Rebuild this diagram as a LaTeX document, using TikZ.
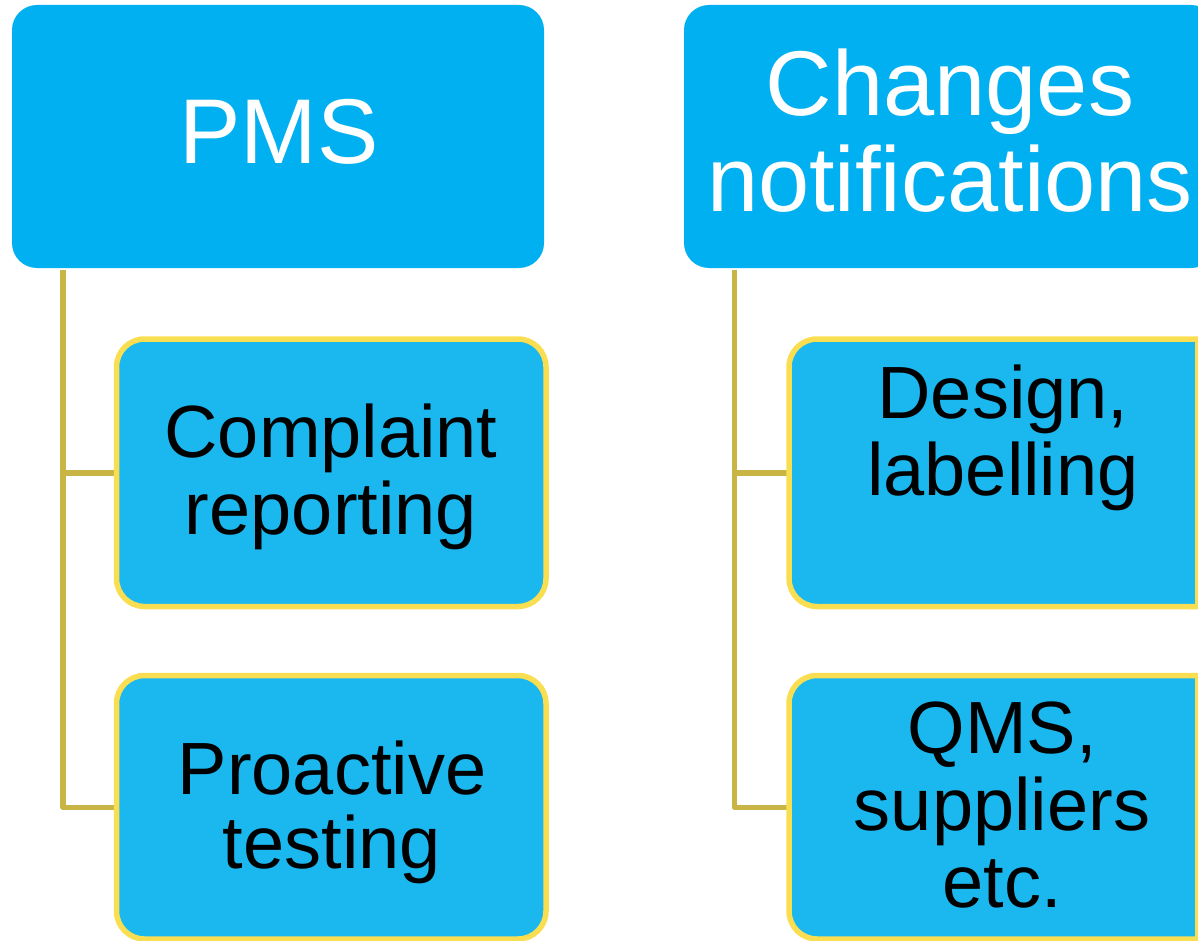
\documentclass[tikz,border=0pt]{standalone}
\usepackage{fontspec}
\setmainfont{Liberation Sans}
\usetikzlibrary{backgrounds}
\definecolor{topblue}{HTML}{00B0F0}
\definecolor{childblue}{HTML}{1BB7EF}
\definecolor{childedge}{HTML}{FADE52}
\definecolor{connector}{HTML}{C9B545}
\tikzset{
  topbox/.style={rectangle, rounded corners=25pt, fill=topblue, draw=none,
    inner sep=0pt, outer sep=0pt, minimum width=532pt, minimum height=263pt},
  childbox/.style={rectangle, rounded corners=28pt, fill=childblue, draw=childedge,
    line width=5.5pt, inner sep=0pt, outer sep=0pt},
  childframe/.style={rectangle, draw=none, fill=none, inner sep=0pt, outer sep=0pt},
  childpath/.style={fill=childblue, draw=childedge, line width=5.5pt, line join=miter},
  toptext/.style={text=white, align=center, inner sep=0pt, font=\fontsize{92}{96}\selectfont},
  childtext/.style={text=black, align=center, inner sep=0pt, font=\fontsize{74}{77}\selectfont},
  conn/.style={draw=connector, line width=5.5pt, line join=round}
}
\begin{document}
\begin{tikzpicture}[x=1pt, y=-1pt]
\useasboundingbox (0,0) rectangle (1198,941);
\clip (0,0) rectangle (1198,941);
% top-level boxes
\node[topbox] (pms) at (278,136.5) {};
\node[topbox] (chg) at (950,136.5) {};
% child boxes (left column)
\node[childbox, minimum width=429.5pt, minimum height=267.5pt] (c1) at (331.25,472.75) {};
\node[childbox, minimum width=429.5pt, minimum height=263.5pt] (c2) at (331.25,807.25) {};
% child boxes (right column, cut at the right edge)
\node[childframe, minimum width=408.75pt, minimum height=267.5pt] (d1) at (993.375,472.75) {};
\node[childframe, minimum width=408.75pt, minimum height=263.5pt] (d2) at (993.375,807.25) {};
\foreach \b in {d1,d2}{
  \draw[childpath] (\b.north east) -- ([xshift=28pt]\b.north west)
    arc[start angle=90, end angle=180, radius=28pt]
    -- ([yshift=28pt]\b.south west)
    arc[start angle=180, end angle=270, radius=28pt]
    -- (\b.south east) -- cycle;
}
% texts
\node[toptext] (pmst) at (279,131.5) {PMS};
\node[toptext] (chgt) at (950,130.5) {Changes\\notifications};
\node[childtext] (c1t) at (331,477) {Complaint\\reporting};
\node[childtext, font=\fontsize{74}{74}\selectfont] (c2t) at (332,812) {Proactive\\testing};
\node[childtext] (d1t) at (1003,438) {Design,\\labelling};
\node[childtext] (d2t) at (1002,805.5) {QMS,\\suppliers\\etc.};
% connectors
\coordinate (ls) at (63,270);
\coordinate (rs) at (734.5,270);
\begin{scope}[on background layer]
\draw[conn] (ls) |- (c1.west);
\draw[conn] (ls) |- (c2.west);
\draw[conn] (rs) |- (d1.west);
\draw[conn] (rs) |- (d2.west);
\end{scope}
\end{tikzpicture}
\end{document}
